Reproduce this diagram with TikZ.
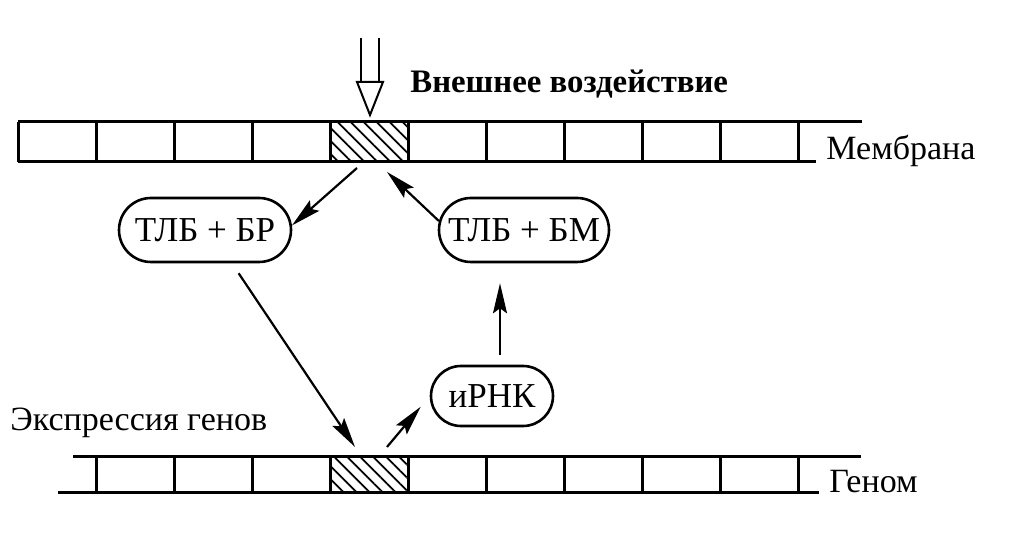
\documentclass[tikz,border=0pt]{standalone}
\usepackage{fontspec}
\setmainfont{Liberation Serif}
\usetikzlibrary{arrows.meta,shapes.misc,patterns.meta}
\tikzset{
  blob/.style={draw, rounded rectangle, line width=1.3pt, inner sep=2pt, font=\fontsize{17.5}{20}\selectfont},
  link/.style={-{Stealth[length=15pt,width=7pt,inset=2.5pt]}, line width=1.1pt},
  wall/.style={line width=1.5pt},
  hatch/.style={pattern={Lines[angle=-45,distance=4.6pt,line width=0.9pt]}},
  tag/.style={anchor=base west, inner sep=0pt},
}

\begin{document}
\begin{tikzpicture}[x=0.5pt, y=-0.5pt, font=\fontsize{17}{20}\selectfont]
  \useasboundingbox (0,0) rectangle (1012,539);

  % membrane
  \fill[hatch] (330,122) rectangle (408,162);
  \draw[wall] (18,122) -- (862,122);
  \draw[wall] (18,162) -- (816,162);
  \foreach \x in {0,...,10} \draw[wall] (18+78*\x,122) -- (18+78*\x,162);

  % genome
  \fill[hatch] (330,457) rectangle (408,493);
  \draw[wall] (73,457) -- (861,457);
  \draw[wall] (58,493) -- (819,493);
  \foreach \x in {1,...,10} \draw[wall] (18+78*\x,457) -- (18+78*\x,493);

  \node[tag] (mem) at (826,160) {Мембрана};
  \node[tag] (gen) at (829,493) {Геном};
  \node[tag, font=\fontsize{16.4}{20}\selectfont\bfseries] (ext) at (410,93) {Внешнее воздействие};
  \node[tag] (expr) at (10,430) {Экспрессия генов};

  % outside signal
  \draw[line width=1pt] (361,38) -- (361,82) (379,38) -- (379,82);
  \draw[line width=1pt, fill=white] (357,82) -- (383,82) -- (370,115) -- cycle;

  \node[blob, minimum width=90pt, minimum height=32pt] (br) at (205,230) {ТЛБ + БР};
  \node[blob, minimum width=89pt, minimum height=32pt] (bm) at (524,230) {ТЛБ + БМ};
  \node[blob, minimum width=65pt, minimum height=30pt] (rna) at (492,396) {иРНК};

  \coordinate (memL) at (357,168);
  \coordinate (memR) at (387,172);
  \coordinate (genL) at (355,447);
  \coordinate (genR) at (387,447);

  \draw[link] (memL) -- (br.3);
  \draw[link] (bm.174) -- (memR);
  \draw[link, shorten <=6pt] (br.-51) -- (genL);
  \draw[link, shorten >=7pt] (genR) -- (rna.west);
  \draw[link, shorten <=5pt, shorten >=10pt] ([xshift=4pt]rna.north) -- ([xshift=-12pt]bm.south);
\end{tikzpicture}
\end{document}
